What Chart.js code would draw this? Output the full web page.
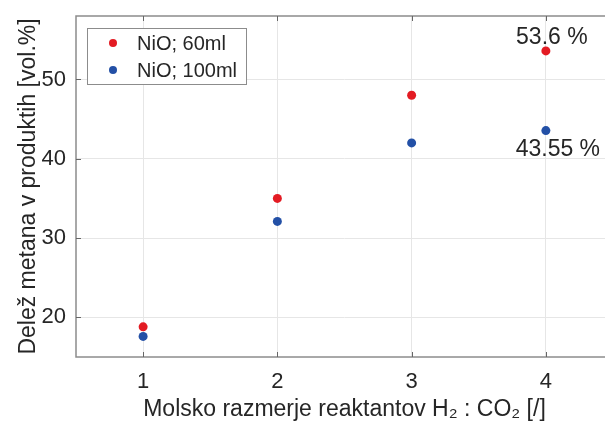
<!DOCTYPE html>
<html>
<head>
<meta charset="utf-8">
<script src="https://cdn.jsdelivr.net/npm/chart.js@4/dist/chart.umd.min.js"></script>
<style>
html,body{margin:0;padding:0;background:#fff;overflow:hidden;}
#wrap{width:620px;height:425px;}
</style>
</head>
<body>
<div id="wrap"><canvas id="c" width="620" height="425"></canvas></div>
<script>
const ratios = [1, 2, 3, 4];
const nio60 = [18.8, 35.0, 48.0, 53.6];
const nio100 = [17.6, 32.1, 42.0, 43.55];
const seriesNames = ['NiO; 60ml', 'NiO; 100ml'];
const yTicks = [20, 30, 40, 50];
const xTicks = [1, 2, 3, 4];
const annotations = [
  {series: 0, index: 3, text: '53.6 %'},
  {series: 1, index: 3, text: '43.55 %'}
];
const colors = ['#e31b23', '#2350a6'];
const FONT = '"Liberation Sans", Arial, sans-serif';
const TXT = '#262626';

const plugin = {
  id: 'extras',
  afterDraw(chart) {
    const ctx = chart.ctx;
    const a = chart.chartArea;
    const xs = chart.scales.x, ys = chart.scales.y;
    ctx.save();
    // box
    ctx.strokeStyle = '#8c8c8c';
    ctx.lineWidth = 1.5;
    ctx.strokeRect(a.left, a.top, a.right - a.left, a.bottom - a.top);
    // inner tick marks
    ctx.strokeStyle = '#666';
    ctx.lineWidth = 1;
    xTicks.forEach(v => {
      const px = Math.round(xs.getPixelForValue(v)) + 0.5;
      ctx.beginPath(); ctx.moveTo(px, a.top); ctx.lineTo(px, a.top + 5); ctx.stroke();
      ctx.beginPath(); ctx.moveTo(px, a.bottom); ctx.lineTo(px, a.bottom - 5); ctx.stroke();
    });
    yTicks.forEach(v => {
      const py = Math.round(ys.getPixelForValue(v)) + 0.5;
      ctx.beginPath(); ctx.moveTo(a.left, py); ctx.lineTo(a.left + 5, py); ctx.stroke();
    });
    // annotations
    ctx.fillStyle = TXT;
    ctx.font = '23px ' + FONT;
    ctx.textAlign = 'center';
    ctx.textBaseline = 'middle';
    annotations.forEach(an => {
      const d = chart.data.datasets[an.series].data[an.index];
      const px = xs.getPixelForValue(d.x), py = ys.getPixelForValue(d.y);
      if (an.series === 0) ctx.fillText(an.text, px + 6, py - 13);
      else ctx.fillText(an.text, px + 12, py + 19);
    });
    // legend
    const lx = 87, ly = 28, lw = 159, lh = 56;
    ctx.fillStyle = '#fff';
    ctx.fillRect(lx, ly, lw, lh);
    ctx.strokeStyle = '#8c8c8c';
    ctx.lineWidth = 1;
    ctx.strokeRect(lx + 0.5, ly + 0.5, lw, lh);
    ctx.font = '20px ' + FONT;
    ctx.textAlign = 'left';
    chart.data.datasets.forEach((ds, i) => {
      const cy = ly + 15 + i * 27;
      ctx.fillStyle = ds.backgroundColor;
      ctx.beginPath(); ctx.arc(lx + 26, cy, 4, 0, Math.PI * 2); ctx.fill();
      ctx.fillStyle = TXT;
      ctx.fillText(ds.label, lx + 50, cy + 1);
    });
    ctx.restore();
  }
};

new Chart(document.getElementById('c'), {
  type: 'scatter',
  data: {
    datasets: [nio60, nio100].map((vals, i) => ({
      label: seriesNames[i],
      data: vals.map((v, j) => ({x: ratios[j], y: v})),
      backgroundColor: colors[i],
      borderColor: colors[i],
      pointRadius: 4.5,
      pointBorderWidth: 0
    }))
  },
  options: {
    responsive: false,
    animation: false,
    layout: {padding: {top: 16, right: 7, left: 0, bottom: 0}},
    plugins: {legend: {display: false}, tooltip: {enabled: false}},
    scales: {
      x: {
        type: 'linear', min: 0.5, max: 4.5,
        afterBuildTicks: s => { s.ticks = xTicks.map(v => ({value: v})); },
        afterFit: s => { s.height = 68; s.paddingLeft = 0; s.paddingRight = 0; },
        grid: {color: '#e6e6e6', drawTicks: false},
        border: {display: false},
        ticks: {color: TXT, font: {family: FONT, size: 22}, padding: 12, maxRotation: 0},
        title: {display: true, text: 'Molsko razmerje reaktantov H₂ : CO₂ [/]', color: TXT,
                font: {family: FONT, size: 23}, padding: {top: 0, bottom: 2}}
      },
      y: {
        type: 'linear', min: 15, max: 58,
        afterBuildTicks: s => { s.ticks = yTicks.map(v => ({value: v})); },
        afterFit: s => { s.width = 76; s.paddingTop = 0; s.paddingBottom = 0; },
        grid: {color: '#e6e6e6', drawTicks: false},
        border: {display: false},
        ticks: {color: TXT, font: {family: FONT, size: 22}, padding: 10},
        title: {display: true, text: 'Delež metana v produktih [vol.%]', color: TXT,
                font: {family: FONT, size: 23}, padding: {top: 15, bottom: 0}}
      }
    }
  },
  plugins: [plugin]
});
</script>
</body>
</html>
